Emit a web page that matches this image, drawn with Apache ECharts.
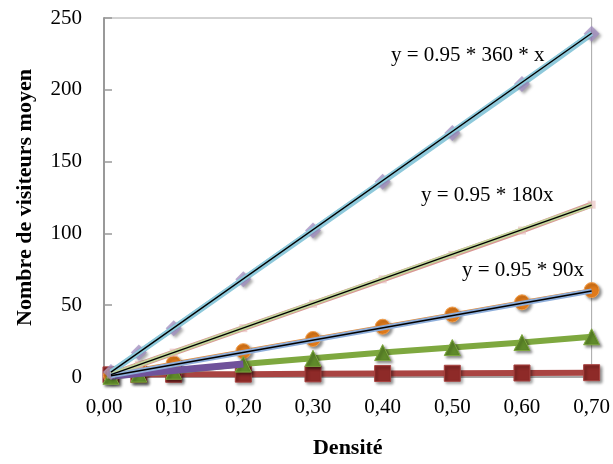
<!DOCTYPE html>
<html><head><meta charset="utf-8">
<script src="https://cdn.jsdelivr.net/npm/echarts@6/dist/echarts.min.js"></script>
<style>html,body{margin:0;padding:0;background:#fff}#c{width:613px;height:464px}</style>
</head><body><div id="c"></div>
<script>
var xVals = [0.01, 0.05, 0.1, 0.2, 0.3, 0.4, 0.5, 0.6, 0.7];
var s360 = [3.4, 17, 34, 68, 102, 136, 170, 204, 239];
var s180 = [1.7, 8.5, 17, 34, 51, 68, 85, 102, 120];
var s90 = [1, 5, 9.5, 18, 26.5, 35, 43.5, 52, 60.5];
var sGreen = [0.5, 2, 4, 9, 13, 17, 20.5, 24, 28];
var sPurple = [0.5, 2.5, 4.5, 9];
var sRed = [1.5, 1.7, 1.9, 2.0, 2.2, 2.4, 2.6, 2.8, 3.0];
var trendX = [0.01, 0.7];
var trend360 = [3.4, 239.4];
var trend180 = [1.7, 119.7];
var trend90 = [0.9, 59.9];
var yTicks = [0, 50, 100, 150, 200, 250];
var labels = ['y = 0.95 * 360 * x', 'y = 0.95 * 180x', 'y = 0.95 * 90x'];

function pairs(xs, ys) { return ys.map(function (v, i) { return [xs[i], v]; }); }
var FONT = '"Liberation Serif", "DejaVu Serif", serif';
var shadow = { shadowColor: 'rgba(0,0,0,0.45)', shadowBlur: 3, shadowOffsetX: 2, shadowOffsetY: 2 };

var chart = echarts.init(document.getElementById('c'), null, { renderer: 'canvas' });
chart.setOption({
  animation: false,
  backgroundColor: '#fff',
  grid: { left: 104, right: 18, top: 18, bottom: 87, show: true, borderColor: '#a6a6a6', borderWidth: 1 },
  xAxis: {
    type: 'value', min: 0, max: 0.7, interval: 0.1,
    name: 'Densité', nameLocation: 'middle', nameGap: 60,
    nameTextStyle: { fontFamily: FONT, fontSize: 22, fontWeight: 'bold', color: '#000' },
    axisLine: { show: true, lineStyle: { color: '#999', width: 1.5 } },
    axisTick: { show: false },
    splitLine: { show: false },
    axisLabel: { fontFamily: FONT, fontSize: 21, color: '#000', margin: 20,
      formatter: function (v) { return v.toFixed(2).replace('.', ','); } }
  },
  yAxis: {
    type: 'value', min: yTicks[0], max: yTicks[yTicks.length - 1], interval: 50,
    name: 'Nombre de visiteurs moyen', nameLocation: 'middle', nameGap: 68, nameRotate: 90,
    nameTextStyle: { fontFamily: FONT, fontSize: 22, fontWeight: 'bold', color: '#000' },
    axisLine: { show: true, lineStyle: { color: '#999', width: 2 } },
    axisTick: { show: true, inside: true, length: 8, lineStyle: { color: '#999', width: 1.5 } },
    splitLine: { show: false },
    axisLabel: { fontFamily: FONT, fontSize: 21, color: '#000', margin: 22 }
  },
  series: [
    { type: 'line', name: 'red', data: pairs(xVals, sRed), z: 2,
      lineStyle: { color: '#a94442', width: 6 }, symbol: 'rect', symbolSize: 16,
      itemStyle: Object.assign({ color: '#8e2a28', borderColor: '#a94442', borderWidth: 1 }, shadow) },
    { type: 'line', name: 'orange', data: pairs(xVals, s90), z: 3,
      lineStyle: { color: '#e98a2f', width: 4 }, symbol: 'circle', symbolSize: 15,
      itemStyle: Object.assign({ color: '#e07a1a', borderColor: '#f0a050', borderWidth: 1 }, shadow) },
    { type: 'line', name: 'green', data: pairs(xVals, sGreen), z: 4,
      lineStyle: { color: '#7ea83f', width: 6 }, symbol: 'triangle', symbolSize: 16,
      itemStyle: Object.assign({ color: '#5f8a2a', borderColor: '#7ea83f', borderWidth: 1 }, shadow) },
    { type: 'line', name: 'purple', data: pairs(xVals, sPurple), z: 5,
      lineStyle: { color: '#70529a', width: 7 }, symbol: 'none' },
    { type: 'line', name: '180', data: pairs(xVals, s180), z: 6,
      lineStyle: { color: '#d99694', width: 6 }, symbol: 'rect', symbolSize: 8,
      itemStyle: { color: '#e6b9b8', opacity: 0.6 } },
    { type: 'line', name: '360', data: pairs(xVals, s360), z: 6,
      lineStyle: { color: '#8ec9db', width: 6 }, symbol: 'diamond', symbolSize: [16, 16],
      itemStyle: Object.assign({ color: '#a08cc0', opacity: 0.75 }, shadow) },
    { type: 'line', name: 't360', data: pairs(trendX, trend360), z: 7,
      lineStyle: { color: '#8ec9db', width: 5 }, symbol: 'none' },
    { type: 'line', name: 't180', data: pairs(trendX, trend180), z: 7,
      lineStyle: { color: '#c3d69b', width: 4.5 }, symbol: 'none' },
    { type: 'line', name: 't90', data: pairs(trendX, trend90), z: 7,
      lineStyle: { color: '#8eaedb', width: 5 }, symbol: 'none' },
    { type: 'line', name: 'k360', data: pairs(trendX, trend360), z: 8,
      lineStyle: { color: '#000', width: 1.4 }, symbol: 'none' },
    { type: 'line', name: 'k180', data: pairs(trendX, trend180), z: 8,
      lineStyle: { color: '#000', width: 1.4 }, symbol: 'none' },
    { type: 'line', name: 'k90', data: pairs(trendX, trend90), z: 8,
      lineStyle: { color: '#000', width: 1.4 }, symbol: 'none' }
  ],
  graphic: [
    { type: 'text', left: 391, top: 45, style: { text: labels[0], font: '21px ' + FONT, fill: '#000' } },
    { type: 'text', left: 421, top: 185, style: { text: labels[1], font: '21px ' + FONT, fill: '#000' } },
    { type: 'text', left: 462, top: 260, style: { text: labels[2], font: '21px ' + FONT, fill: '#000' } }
  ]
});
</script></body></html>
